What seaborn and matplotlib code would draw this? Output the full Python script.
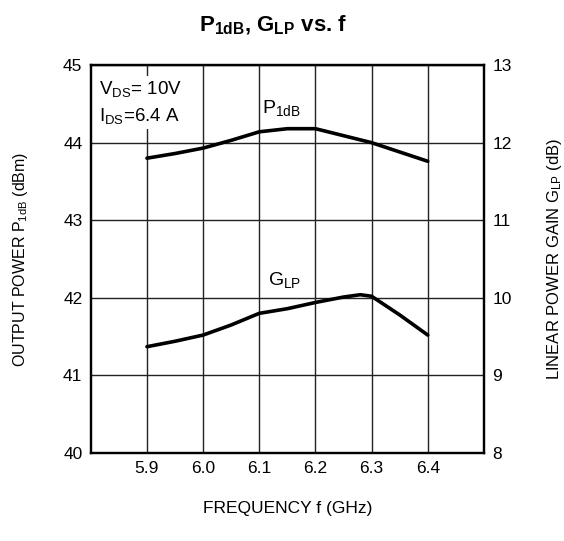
import seaborn as sns
import matplotlib.pyplot as plt
import pandas as pd

# Frequency points (GHz)
freq = [5.90, 5.95, 6.00, 6.05, 6.10, 6.15, 6.20, 6.25, 6.30, 6.35, 6.40]
# Output power P1dB (dBm), left axis
p1db = [43.80, 43.86, 43.93, 44.03, 44.14, 44.18, 44.18, 44.09, 44.00, 43.88, 43.76]
# Linear power gain GLP (dB), right axis
glp_freq = [5.90, 5.95, 6.00, 6.05, 6.10, 6.15, 6.20, 6.25, 6.28, 6.30, 6.35, 6.40]
glp = [9.37, 9.44, 9.52, 9.65, 9.80, 9.86, 9.94, 10.01, 10.04, 10.02, 9.78, 9.52]

x_ticks = [5.9, 6.0, 6.1, 6.2, 6.3, 6.4]
left_ticks = [40, 41, 42, 43, 44, 45]
right_ticks = [8, 9, 10, 11, 12, 13]

sns.set_style("white", {"text.color": "black", "axes.labelcolor": "black",
                        "xtick.color": "black", "ytick.color": "black"})
plt.rcParams['font.family'] = ['Liberation Sans', 'DejaVu Sans']
plt.rcParams['mathtext.fontset'] = 'custom'
plt.rcParams['mathtext.rm'] = 'Liberation Sans'

fig = plt.figure(figsize=(5.64, 5.41), dpi=100)
ax = fig.add_axes([0.161, 0.1627, 0.697, 0.717])
ax2 = ax.twinx()

df1 = pd.DataFrame({"f": freq, "p": p1db})
df2 = pd.DataFrame({"f": glp_freq, "g": glp})

sns.lineplot(data=df1, x="f", y="p", ax=ax, color="black", linewidth=2.6)
sns.lineplot(data=df2, x="f", y="g", ax=ax2, color="black", linewidth=2.6)

ax.set_xlim(5.8, 6.5)
ax.set_ylim(40, 45)
ax2.set_ylim(8, 13)
ax.set_xticks(x_ticks)
ax.set_xticklabels([f"{t:.1f}" for t in x_ticks])
ax.set_yticks(left_ticks)
ax2.set_yticks(right_ticks)

ax.grid(True, color="#222222", linewidth=1.0)
ax.set_axisbelow(True)
ax.tick_params(length=0, labelsize=12.5, pad=6, colors="black")
ax2.tick_params(length=0, labelsize=12.5, pad=6, colors="black")
for a in (ax, ax2):
    for s in a.spines.values():
        s.set_color("black")
        s.set_linewidth(1.6)

ax.set_xlabel("FREQUENCY f (GHz)", fontsize=12.5, labelpad=18, color="black")
ax.set_ylabel(r"OUTPUT POWER P$\mathregular{_{1dB}}$ (dBm)", fontsize=11.5,
              labelpad=24, color="black")
ax2.set_ylabel(r"LINEAR POWER GAIN G$\mathregular{_{LP}}$ (dB)", fontsize=12,
               labelpad=24, rotation=90, color="black")

ax.text(6.105, 44.45, r"P$\mathregular{_{1dB}}$", fontsize=14, va="center")
ax.text(6.115, 42.23, r"G$\mathregular{_{LP}}$", fontsize=14, va="center")
ax.text(5.815, 44.52, "V$\\mathregular{_{DS}}$= 10V\nI$\\mathregular{_{DS}}$=6.4 A",
        fontsize=13.5, va="center", linespacing=1.5,
        bbox=dict(facecolor="white", edgecolor="none", pad=2))

fig.suptitle(r"P$\mathregular{_{1dB}}$, G$\mathregular{_{LP}}$ vs. f",
             x=0.485, y=0.975, fontsize=16, fontweight="bold", color="black")

fig.savefig("out.png", dpi=100)
